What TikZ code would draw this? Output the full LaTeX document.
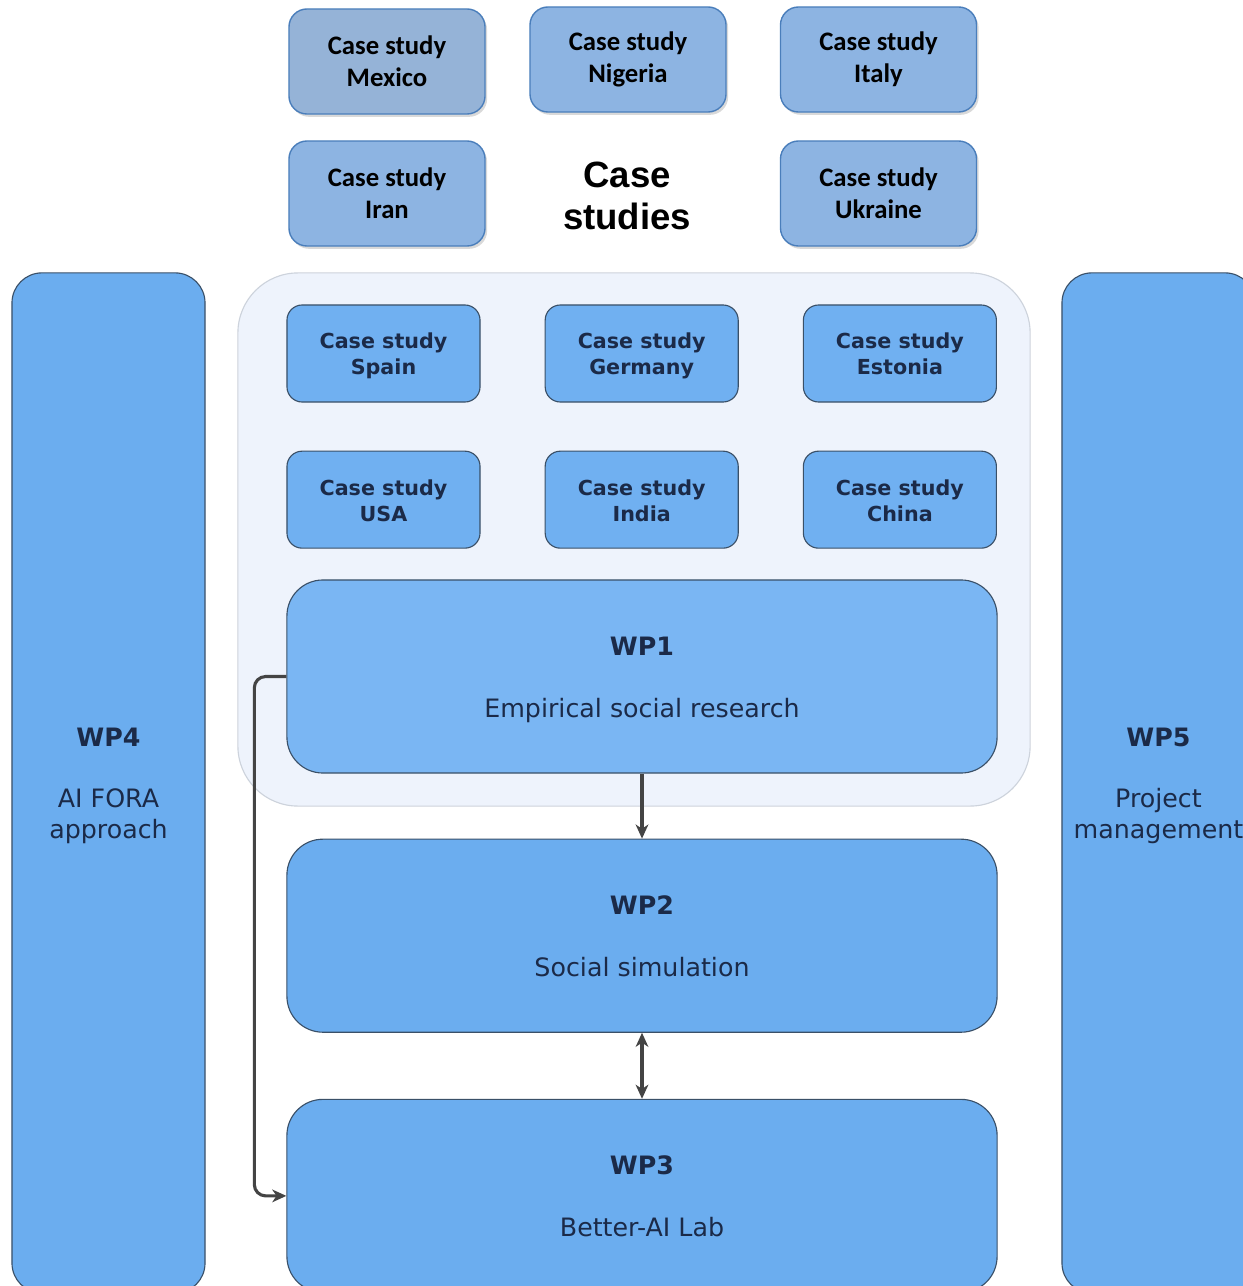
\documentclass[tikz,border=0pt]{standalone}
\usepackage{fontspec}
\setmainfont{DejaVu Sans}
\newfontfamily\calibrifont{Carlito}
\newfontfamily\arialfont{Liberation Sans}
\usepackage{tikz}
\usetikzlibrary{positioning, arrows.meta, shadows}

\definecolor{topfill}{HTML}{8DB4E2}
\definecolor{mexfill}{HTML}{95B3D7}
\definecolor{topdraw}{HTML}{4A7EBB}
\definecolor{casefill}{HTML}{70B0F1}
\definecolor{wpfill}{HTML}{6BADEF}
\definecolor{wponefill}{HTML}{7AB6F3}
\definecolor{boxdraw}{HTML}{3A5068}
\definecolor{groupfill}{HTML}{EEF3FC}
\definecolor{groupdraw}{HTML}{CDD3DC}
\definecolor{textnavy}{HTML}{1B2A48}
\definecolor{arrowgray}{HTML}{444444}

\begin{document}
\begin{tikzpicture}[x=0.025cm, y=-0.025cm]
	% Define styles
	\tikzset{
		topcase/.style={rectangle, rounded corners=0.45cm, draw=topdraw, line width=1pt, fill=topfill,
			drop shadow={shadow xshift=1.5pt, shadow yshift=-2pt, opacity=.3},
			minimum width=4.9cm, minimum height=2.625cm, align=center,
			font=\calibrifont\bfseries\fontsize{19}{23}\selectfont},
		casebox/.style={rectangle, rounded corners=0.38cm, draw=boxdraw, line width=0.8pt, fill=casefill,
			minimum width=4.825cm, minimum height=2.425cm, align=center, text=textnavy,
			font=\bfseries\fontsize{14.7}{18.5}\selectfont, text height=34pt, text depth=3.5pt},
		wpbox/.style={rectangle, rounded corners=0.9cm, draw=boxdraw, line width=0.8pt, fill=wpfill,
			minimum width=17.75cm, minimum height=4.825cm, align=center, text=textnavy,
			font=\fontsize{18}{22}\selectfont, text height=62pt, text depth=4pt},
		sidebox/.style={wpbox, rounded corners=0.75cm, minimum width=4.825cm, minimum height=25.5cm,
			text height=83.5pt},
		line/.style={draw=arrowgray, line width=2.2pt, -{Stealth[length=10pt, width=9pt, inset=3pt]}}
	}
	\useasboundingbox (0,0) rectangle (1242,1286);
	
	% Outside case studies
	\node[topcase, fill=mexfill] (mexico) at (387,61.5) {Case study\\Mexico};
	\node[topcase] (nigeria) at (628,59.5) {Case study\\Nigeria};
	\node[topcase] (italy) at (878.5,59.5) {Case study\\Italy};
	\node[topcase] (iran) at (387,193.5) {Case study\\Iran};
	\node[topcase] (ukraine) at (878.5,193.5) {Case study\\Ukraine};
	\node[align=center, font=\arialfont\bfseries\fontsize{26}{29.5}\selectfont] (title) at (627,196) {Case\\studies};
	
	% Side work packages
	\node[sidebox] (wp4) at (108.5,783) {\textbf{WP4}\\[22pt]AI FORA\\approach};
	\node[sidebox] (wp5) at (1158.5,783) {\textbf{WP5}\\[22pt]Project\\management};
	
	% Group of case studies
	\node[rectangle, rounded corners=1.5cm, draw=groupdraw, line width=0.8pt, fill=groupfill,
		minimum width=19.8cm, minimum height=13.325cm] (group) at (634,539.5) {};
	
	\node[casebox] (spain) at (383.5,353.5) {Case study\\Spain};
	\node[casebox, right=1.6cm of spain] (germany) {Case study\\Germany};
	\node[casebox, right=1.6cm of germany] (estonia) {Case study\\Estonia};
	\node[casebox, below=1.2cm of spain] (usa) {Case study\\USA};
	\node[casebox, below=1.2cm of germany] (india) {Case study\\India};
	\node[casebox, below=1.2cm of estonia] (china) {Case study\\China};
	
	% Main work packages
	\node[wpbox, fill=wponefill] (wp1) at (642,676.5) {\textbf{WP1}\\[22pt]Empirical social research};
	\node[wpbox, below=1.625cm of wp1] (wp2) {\textbf{WP2}\\[22pt]Social simulation};
	\node[wpbox, below=1.65cm of wp2] (wp3) {\textbf{WP3}\\[22pt]Better-AI Lab};
	
	% Arrows
	\draw[line] (wp1) -- (wp2);
	\draw[line, {Stealth[length=10pt, width=9pt, inset=3pt]}-{Stealth[length=10pt, width=9pt, inset=3pt]}] (wp2) -- (wp3);
	\draw[line, rounded corners=8pt] (wp1.west) -- ++(-32,0) |- (wp3.west);
\end{tikzpicture}
\end{document}
